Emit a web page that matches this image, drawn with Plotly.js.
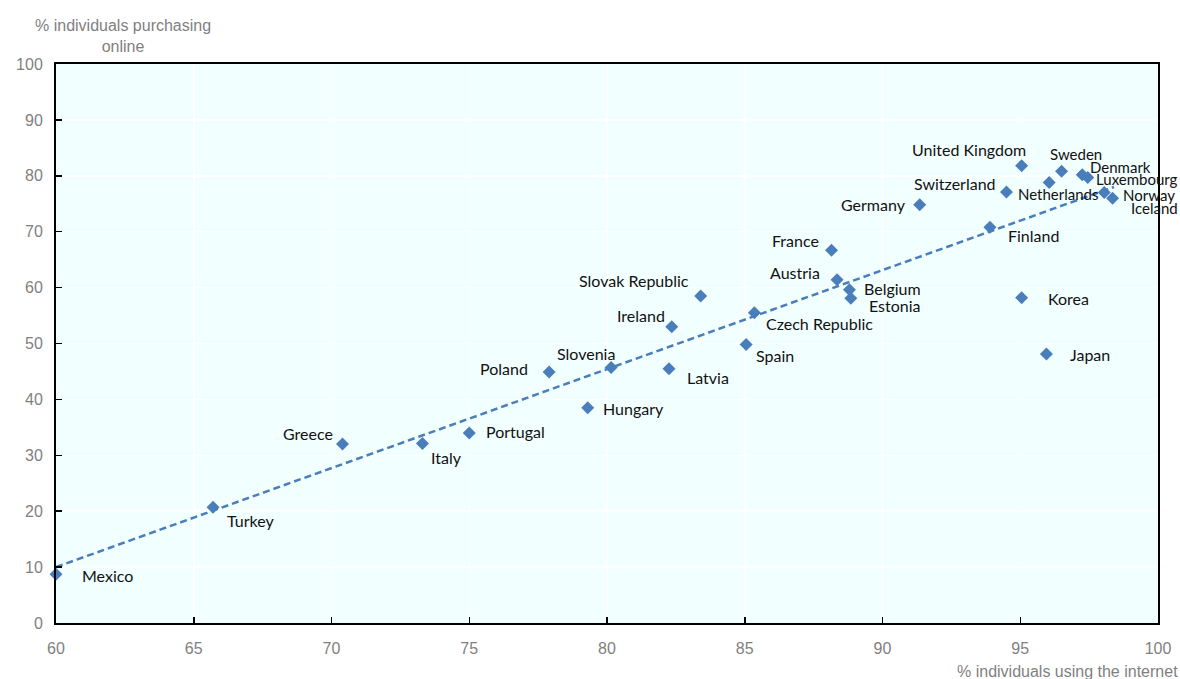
<!DOCTYPE html>
<html>
<head>
<meta charset="utf-8">
<script src="https://cdn.plot.ly/plotly-3.0.1.min.js"></script>
<style>html,body{margin:0;padding:0;background:#fff;}#chart{width:1180px;height:679px;}</style>
</head>
<body>
<div id="chart"></div>
<script>
// ---- data ----
const countries = ["Mexico","Turkey","Greece","Italy","Portugal","Poland","Slovenia","Hungary","Latvia","Ireland",
  "Slovak Republic","Spain","Czech Republic","France","Austria","Belgium","Estonia","Germany","Finland","Switzerland",
  "United Kingdom","Korea","Netherlands","Sweden","Japan","Denmark","Luxembourg","Norway","Iceland"];
const internetUse = [60.0,65.7,70.4,73.3,75.0,77.9,80.15,79.3,82.25,82.35,
  83.4,85.05,85.35,88.15,88.35,88.8,88.85,91.35,93.9,94.5,
  95.05,95.05,96.05,96.5,95.95,97.25,97.45,98.05,98.35];
const onlinePurchase = [8.7,20.7,32.0,32.1,34.0,44.9,45.7,38.5,45.5,53.0,
  58.5,49.8,55.5,66.7,61.4,59.6,58.1,74.8,70.8,77.1,
  81.8,58.2,78.8,80.8,48.1,80.2,79.7,77.0,76.0];
const trendX = [60.0, 98.4];
const trendY = [10.0, 78.0];
const xTicks = [60,65,70,75,80,85,90,95,100];
const yTicks = [0,10,20,30,40,50,60,70,80,90,100];

// ---- label placement (anchor, dx px, dy px up, font size) ----
const labelPlace = {
  "Mexico":["left",24,-1,16],"Turkey":["left",12,-13,16],"Greece":["right",-8,11,16],"Italy":["left",7,-14,16],
  "Portugal":["left",15,1,16],"Poland":["right",-19,4,16],"Slovenia":["right",6,14,16],"Hungary":["left",13,-1,16],
  "Latvia":["left",16,-9,16],"Ireland":["right",-5,11,16],"Slovak Republic":["right",-10,15,16],"Spain":["left",8,-11,16],
  "Czech Republic":["left",10,-11,16],"France":["right",-11,10,16],"Austria":["right",-15,7,16],"Belgium":["left",13,1,16],
  "Estonia":["left",16,-7,16],"Germany":["right",-12,0,16],"Finland":["left",16,-8,16],"Switzerland":["right",-8,9,16],
  "United Kingdom":["right",6,16,16],"Korea":["left",24,-1,16],"Netherlands":["left",-33,-11,15],"Sweden":["center",14,17,15],
  "Japan":["left",22,0,16],"Denmark":["right",71,8,15],"Luxembourg":["right",92,-2,15],"Norway":["right",73,-2,15],"Iceland":["right",67,-10,15]
};

const BLUE = "#4A7EBB";
const traces = [
  {x: trendX, y: trendY, type: "scatter", mode: "lines",
   line: {color: BLUE, width: 2.5, dash: "7px,4px"}, hoverinfo: "skip", showlegend: false},
  {x: internetUse, y: onlinePurchase, text: countries, type: "scatter", mode: "markers",
   marker: {symbol: "diamond", size: 10, color: BLUE}, showlegend: false, cliponaxis: false}
];

const annotations = countries.map((c, i) => {
  const p = labelPlace[c];
  return {x: internetUse[i], y: onlinePurchase[i], xref: "x", yref: "y", text: c, showarrow: false,
    xanchor: p[0], yanchor: "middle", xshift: p[1], yshift: p[2],
    font: {family: "Lato, 'Open Sans', sans-serif", size: p[3], color: "#111"}};
});
annotations.push({xref: "paper", yref: "paper", x: -0.0, y: 1.0, xanchor: "center", yanchor: "bottom",
  xshift: 67, yshift: 7, align: "center", showarrow: false,
  text: "% individuals purchasing<br>online",
  font: {family: "'Liberation Sans', Arial, sans-serif", size: 16, color: "#7f7f7f"}});
annotations.push({xref: "paper", yref: "paper", x: 1.0, y: 0, xanchor: "right", yanchor: "top",
  xshift: 22, yshift: -38, showarrow: false,
  text: "% individuals using the internet",
  font: {family: "'Liberation Sans', Arial, sans-serif", size: 16, color: "#7f7f7f"}});

const axisCommon = {
  showline: true, linecolor: "#000", linewidth: 2, mirror: true,
  ticks: "inside", ticklen: 6, tickcolor: "#000", tickwidth: 1.5,
  showgrid: true, gridcolor: "#ffffff", gridwidth: 1.5, zeroline: false,
  tickfont: {family: "'Liberation Sans', Arial, sans-serif", size: 16, color: "#7f7f7f"}
};

const layout = {
  width: 1180, height: 679,
  margin: {l: 56, r: 22, t: 64, b: 56},
  paper_bgcolor: "#ffffff", plot_bgcolor: "#F2FFFF",
  xaxis: Object.assign({}, axisCommon, {range: [60, 100], tickmode: "array", tickvals: xTicks, ticklabelstandoff: 10}),
  yaxis: Object.assign({}, axisCommon, {range: [0, 100], tickmode: "array", tickvals: yTicks, ticklabelstandoff: 8}),
  annotations: annotations,
  showlegend: false
};

Plotly.newPlot("chart", traces, layout, {displayModeBar: false, staticPlot: true});
</script>
</body>
</html>
